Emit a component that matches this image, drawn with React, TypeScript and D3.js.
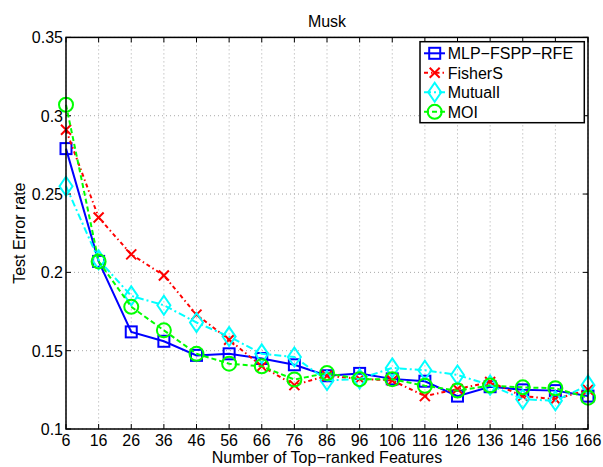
import React from "react";
import * as d3 from "d3";

const features = [6, 16, 26, 36, 46, 56, 66, 76, 86, 96, 106, 116, 126, 136, 146, 156, 166];
const mlpFsppRfe = [0.279, 0.207, 0.162, 0.156, 0.147, 0.148, 0.145, 0.141, 0.134, 0.1355, 0.132, 0.1305, 0.121, 0.127, 0.125, 0.1245, 0.121];
const fisherS = [0.291, 0.235, 0.2115, 0.198, 0.173, 0.157, 0.140, 0.128, 0.134, 0.132, 0.131, 0.121, 0.1255, 0.130, 0.121, 0.119, 0.125];
const mutualI = [0.255, 0.208, 0.185, 0.179, 0.168, 0.159, 0.148, 0.146, 0.131, 0.132, 0.139, 0.1375, 0.1345, 0.128, 0.119, 0.118, 0.128];
const moi = [0.307, 0.207, 0.178, 0.163, 0.148, 0.1417, 0.140, 0.1316, 0.1357, 0.1318, 0.1318, 0.1276, 0.1245, 0.1277, 0.1266, 0.126, 0.120];
const yTicks = [0.1, 0.15, 0.2, 0.25, 0.3, 0.35];

type Marker = "square" | "x" | "diamond" | "circle";
interface Series { name: string; values: number[]; color: string; dash: string; marker: Marker; }

const series: Series[] = [
  { name: "MLP\u2212FSPP\u2212RFE", values: mlpFsppRfe, color: "#0000ff", dash: "", marker: "square" },
  { name: "FisherS", values: fisherS, color: "#ff0000", dash: "4,3,1.5,3", marker: "x" },
  { name: "MutualI", values: mutualI, color: "#00ffff", dash: "7,3,2,3", marker: "diamond" },
  { name: "MOI", values: moi, color: "#00ff00", dash: "5,3", marker: "circle" },
];

const W = 603, H = 467;
const left = 66, right = 588, top = 37.4, bottom = 429;
const FONT = "'Liberation Sans', Arial, Helvetica, sans-serif";
const X_LABEL = "Number of Top\u2212ranked Features";

function MarkerShape({ kind, x, y, color }: { kind: Marker; x: number; y: number; color: string }) {
  const sw = 2;
  if (kind === "square") return <rect x={x - 5.5} y={y - 5.5} width={11} height={11} fill="none" stroke={color} strokeWidth={sw} />;
  if (kind === "circle") return <circle cx={x} cy={y} r={7} fill="none" stroke={color} strokeWidth={sw} />;
  if (kind === "diamond") return <path d={`M${x},${y - 9.5}L${x + 6.5},${y}L${x},${y + 9.5}L${x - 6.5},${y}Z`} fill="none" stroke={color} strokeWidth={sw} />;
  return <path d={`M${x - 5},${y - 5}L${x + 5},${y + 5}M${x - 5},${y + 5}L${x + 5},${y - 5}`} stroke={color} strokeWidth={sw} />;
}

export default function App() {
  const x = d3.scaleLinear().domain([6, 166]).range([left, right]);
  const y = d3.scaleLinear().domain([0.1, 0.35]).range([bottom, top]);
  const line = d3.line<number>().x((_, i) => x(features[i])).y((v) => y(v));
  const tickLen = 5;

  const legX = 420, legY = 41.7, legW = 164.3, legH = 81, rowH = 19.5;

  return (
    <svg width={W} height={H} style={{ position: "fixed", left: 0, top: 0, background: "#fff" }} fontFamily={FONT}>
      <rect x={0} y={0} width={W} height={H} fill="#fff" />
      {/* grid */}
      {features.map((f) => (
        <line key={"gx" + f} x1={x(f)} x2={x(f)} y1={top} y2={bottom} stroke="#a8a8a8" strokeWidth={1} strokeDasharray="1,3" />
      ))}
      {yTicks.map((t) => (
        <line key={"gy" + t} x1={left} x2={right} y1={y(t)} y2={y(t)} stroke="#a8a8a8" strokeWidth={1} strokeDasharray="1,3" />
      ))}
      {/* ticks */}
      {features.map((f) => (
        <g key={"tx" + f}>
          <line x1={x(f)} x2={x(f)} y1={bottom} y2={bottom - tickLen} stroke="#000" />
          <line x1={x(f)} x2={x(f)} y1={top} y2={top + tickLen} stroke="#000" />
          <text x={x(f)} y={bottom + 17} fontSize={16} textAnchor="middle" fill="#000">{f}</text>
        </g>
      ))}
      {yTicks.map((t) => (
        <g key={"ty" + t}>
          <line x1={left} x2={left + tickLen} y1={y(t)} y2={y(t)} stroke="#000" />
          <line x1={right} x2={right - tickLen} y1={y(t)} y2={y(t)} stroke="#000" />
          <text x={left - 3} y={y(t) + 6} fontSize={16} textAnchor="end" fill="#000">{String(t)}</text>
        </g>
      ))}
      {/* series */}
      {series.map((s) => (
        <g key={s.name}>
          <path d={line(s.values) || ""} fill="none" stroke={s.color} strokeWidth={2} strokeDasharray={s.dash || undefined} />
          {s.values.map((v, i) => (
            <MarkerShape key={i} kind={s.marker} x={x(features[i])} y={y(v)} color={s.color} />
          ))}
        </g>
      ))}
      {/* frame */}
      <rect x={left} y={top} width={right - left} height={bottom - top} fill="none" stroke="#000" strokeWidth={1.5} />
      {/* legend */}
      <rect x={legX} y={legY} width={legW} height={legH} fill="#fff" stroke="#000" strokeWidth={1.5} />
      {series.map((s, i) => {
        const cy = legY + 11.6 + i * rowH;
        return (
          <g key={"leg" + s.name}>
            <line x1={legX + 4} x2={legX + 25} y1={cy} y2={cy} stroke={s.color} strokeWidth={2} strokeDasharray={s.dash || undefined} />
            <MarkerShape kind={s.marker} x={legX + 14.7} y={cy} color={s.color} />
            <text x={legX + 27.7} y={cy + 6} fontSize={16} fill="#000">{s.name}</text>
          </g>
        );
      })}
      {/* titles */}
      <text x={(left + right) / 2} y={27} fontSize={16} textAnchor="middle" fill="#000">Musk</text>
      <text x={(left + right) / 2} y={463} fontSize={16} textAnchor="middle" fill="#000">{X_LABEL}</text>
      <text transform={`translate(25,${(top + bottom) / 2}) rotate(-90)`} fontSize={16} textAnchor="middle" fill="#000">Test Error rate</text>
    </svg>
  );
}
